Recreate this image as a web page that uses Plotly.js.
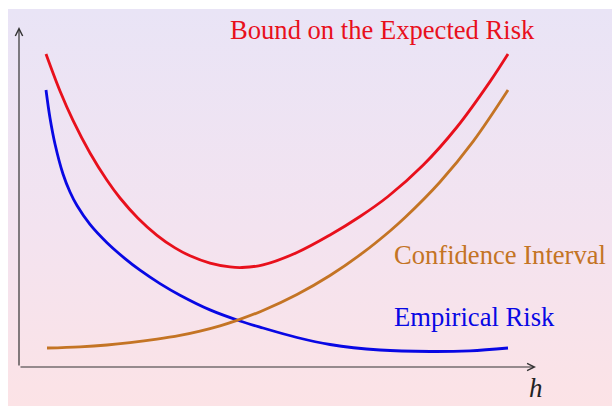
<!DOCTYPE html>
<html>
<head>
<meta charset="utf-8">
<script src="https://cdn.plot.ly/plotly-3.0.1.min.js"></script>
<style>
  html, body { margin: 0; padding: 0; background: #ffffff; }
  #bg { position: absolute; left: 8px; top: 9px; width: 604px; height: 397px;
        background: linear-gradient(to bottom, #E9E4F6 0%, #F3E3F0 55%, #FCE3E6 100%); }
  #chart { position: absolute; left: 0; top: 0; width: 612px; height: 406px; }
</style>
</head>
<body>
<div id="bg"></div>
<div id="chart"></div>
<script>
// Empirical Risk (blue)
const empiricalH = [27, 31, 36, 44, 51, 58, 71, 88, 106, 121, 141, 161, 191, 221, 244, 278, 311, 361, 411, 451, 489];
const empiricalRisk = [277, 249, 223, 193, 175, 161.5, 142.6, 124.3, 108.4, 96.8, 83.4, 71.8, 57.1, 46, 39, 29.5, 22.5, 17, 15.5, 16.2, 19];

// Bound on the Expected Risk (red)
const boundH = [27, 41, 54, 71, 88, 101, 119, 138, 156, 171, 191, 211, 223, 244, 278, 311, 341, 369, 404, 438, 471, 489];
const boundRisk = [313, 276, 246.6, 214, 186.7, 169, 148.8, 131.7, 119.1, 111.2, 103.9, 100.1, 99.5, 102.1, 114.5, 132, 150.5, 170.5, 201.7, 240, 285.4, 313];

// Confidence Interval (orange)
const confH = [28, 61, 88, 111, 138, 161, 181, 201, 218, 244, 278, 311, 344, 371, 386, 421, 454, 489];
const confInterval = [19, 20.2, 22, 24.3, 27.8, 31.6, 35.9, 41.2, 46.6, 56.5, 72.5, 91.5, 114.3, 136, 149.4, 185, 225.4, 277];

const labels = ["Bound on the Expected Risk", "Confidence Interval", "Empirical Risk"];
const axisLabel = "h";

const red = "rgb(232,16,28)";
const blue = "rgb(8,8,228)";
const orange = "rgb(196,116,36)";
const serif = "Liberation Serif, Times New Roman, serif";

function curve(x, y, color) {
  return {x: x, y: y, mode: "lines", line: {color: color, width: 2.8, shape: "spline", smoothing: 1},
          hoverinfo: "skip", showlegend: false};
}

const traces = [
  curve(empiricalH, empiricalRisk, blue),
  curve(confH, confInterval, orange),
  curve(boundH, boundRisk, red)
];

const layout = {
  width: 612, height: 406,
  margin: {l: 19, r: 77, t: 27, b: 39, pad: 0},
  paper_bgcolor: "rgba(0,0,0,0)",
  plot_bgcolor: "rgba(0,0,0,0)",
  xaxis: {range: [0, 516], visible: false, fixedrange: true},
  yaxis: {range: [0, 340], visible: false, fixedrange: true},
  annotations: [
    {x: 517, y: 0, ax: 0, ay: 0, xref: "x", yref: "y", axref: "x", ayref: "y", text: "", showarrow: true,
     arrowhead: 5, arrowsize: 1.2, arrowwidth: 1.2, arrowcolor: "#333", standoff: 0, startstandoff: 0},
    {x: 0, y: 340, ax: 0, ay: 0, xref: "x", yref: "y", axref: "x", ayref: "y", text: "", showarrow: true,
     arrowhead: 5, arrowsize: 1.2, arrowwidth: 1.2, arrowcolor: "#333", standoff: 0, startstandoff: 0},
    {x: 208.5, y: 337, xref: "x", yref: "y", xanchor: "left", yanchor: "middle", showarrow: false,
     text: labels[0], font: {family: serif, size: 26.6, color: red}},
    {x: 373, y: 112, xref: "x", yref: "y", xanchor: "left", yanchor: "middle", showarrow: false,
     text: labels[1], font: {family: serif, size: 26.6, color: orange}},
    {x: 373, y: 50, xref: "x", yref: "y", xanchor: "left", yanchor: "middle", showarrow: false,
     text: labels[2], font: {family: serif, size: 26.6, color: blue}},
    {x: 517 / 516, y: -21 / 340, xref: "paper", yref: "paper", xanchor: "center", yanchor: "middle", showarrow: false,
     text: axisLabel, font: {family: "Liberation Serif", size: 27, color: "#222", style: "italic"}}
  ]
};

Plotly.newPlot("chart", traces, layout, {staticPlot: true, displayModeBar: false});
</script>
</body>
</html>
